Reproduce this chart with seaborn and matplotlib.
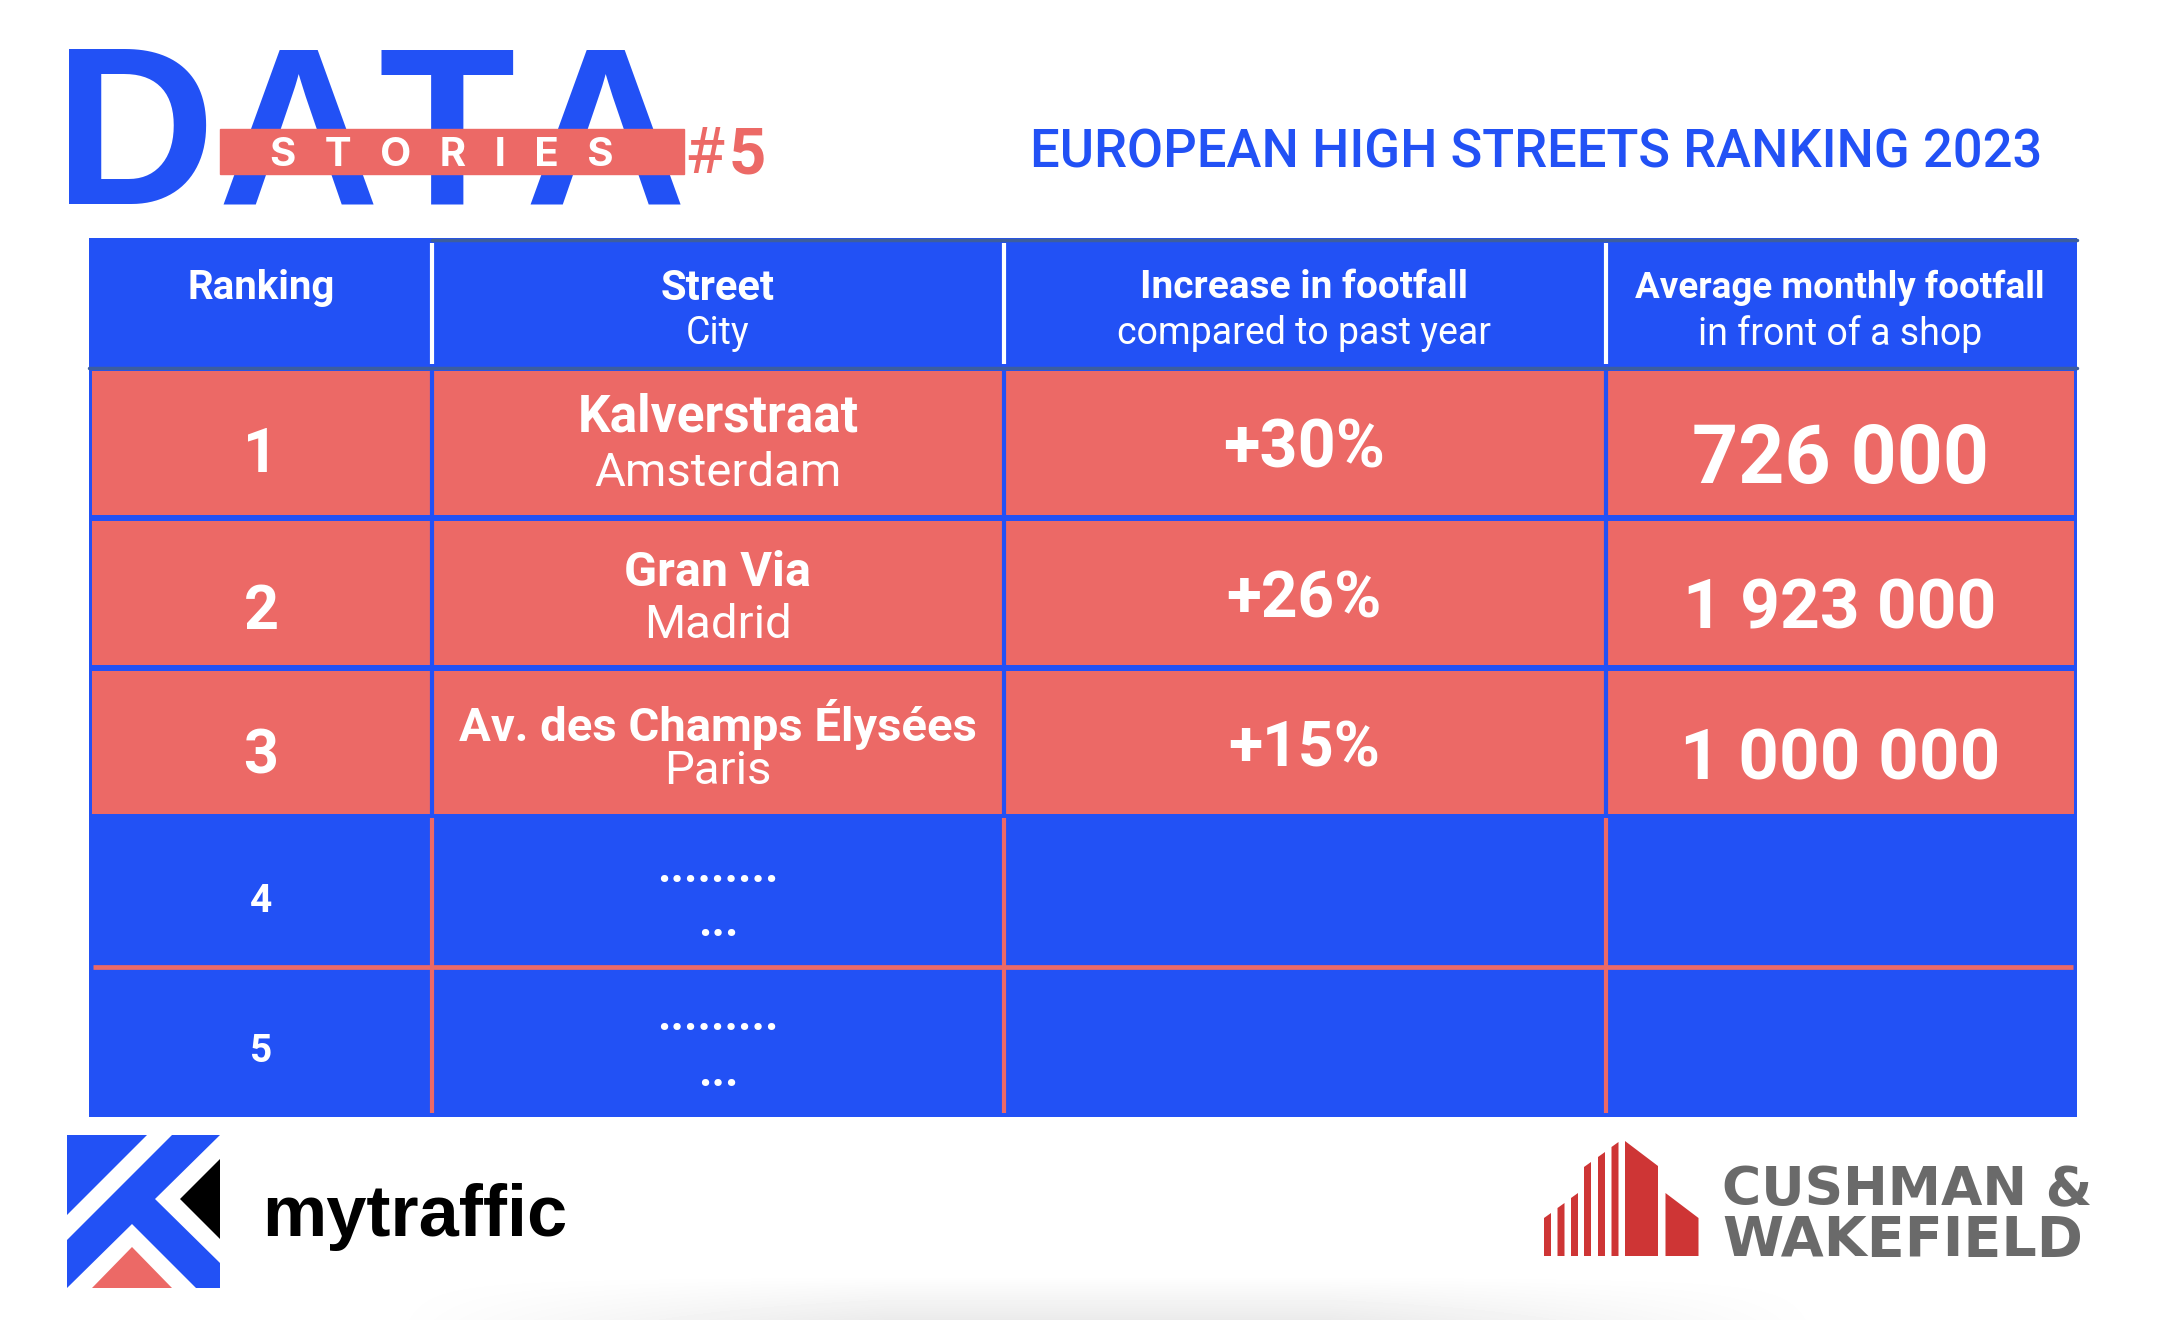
import numpy as np
import matplotlib
matplotlib.use("Agg")
import matplotlib.pyplot as plt
from matplotlib.colors import ListedColormap
from matplotlib.patches import Polygon, Rectangle
import seaborn as sns

BLUE = "#2251F5"
CORAL = "#EC6966"
W, H = 2174, 1320

ranks = [1, 2, 3, 4, 5]
streets = ["Kalverstraat", "Gran Via", "Av. des Champs Élysées", ".........", "........."]
cities = ["Amsterdam", "Madrid", "Paris", "...", "..."]
increases = [30, 26, 15]
footfall = [726000, 1923000, 1000000]
row_highlight = [1, 1, 1, 0, 0]
head_top = ["Ranking", "Street", "Increase in footfall", "Average monthly footfall"]
head_sub = ["", "City", "compared to past year", "in front of a shop"]

sns.set_theme(style="white")
plt.rcParams["font.family"] = ["Roboto", "DejaVu Sans"]


def px_axes(fig, x0, y0, x1, y1, z):
    return fig.add_axes([x0 / W, 1 - y1 / H, (x1 - x0) / W, (y1 - y0) / H], zorder=z)


fig = plt.figure(figsize=(21.74, 13.2), dpi=100, facecolor="white")

# faint grey smudge along the bottom edge of the slide
bg_ax = px_axes(fig, 0, 0, W, H, 0)
bg_ax.axis("off")
fade_x = np.minimum(np.clip((np.arange(W) - 384) / 500, 0, 1), np.clip((1830 - np.arange(W)) / 500, 0, 1))
fade_y = np.clip((np.arange(H) - 1275) / 45, 0, 1)
bg_ax.imshow(1 - 0.08 * np.outer(fade_y, fade_x), cmap="gray", vmin=0, vmax=1, aspect="auto")

# table is two heatmaps, header band + five rows
head_ax = px_axes(fig, 89, 238, 2077, 368, 1)
sns.heatmap(np.zeros((1, 1)), cmap=ListedColormap([BLUE]), cbar=False, ax=head_ax,
            xticklabels=False, yticklabels=False)

body_ax = px_axes(fig, 89, 368, 2077, 1117, 1)
sns.heatmap(np.array(row_highlight).reshape(-1, 1), cmap=ListedColormap([BLUE, CORAL]),
            vmin=0, vmax=1, cbar=False, ax=body_ax, linewidths=3, linecolor=BLUE,
            xticklabels=False, yticklabels=False)
body_ax.hlines(4, 0.002, 0.998, color=CORAL, lw=3.4)

# everything else on a full figure axes in pixels
ax = px_axes(fig, 0, 0, W, H, 2)
ax.set_xlim(0, W)
ax.set_ylim(H, 0)
ax.axis("off")
ax.patch.set_alpha(0)

col_x = [261, 718, 1304, 1840]
col_lines = [432, 1004, 1606]

for x in col_lines:
    ax.plot([x, x], [243, 364], color="white", lw=3, solid_capstyle="butt")
    ax.plot([x, x], [368, 816], color=BLUE, lw=3, solid_capstyle="butt")
    ax.plot([x, x], [818, 1113], color=CORAL, lw=3, solid_capstyle="butt")
ax.plot([432, 2077], [239.5, 239.5], color="#3D5E9E", lw=2.5)
ax.plot([89, 2077], [368, 368], color="#3D5E9E", lw=2.5)

# headers
head_size = [29, 30, 28, 26.5]
for x, top, sub, size in zip(col_x, head_top, head_sub, head_size):
    ax.text(x, 284, top, color="white", fontsize=size, fontweight="bold", ha="center", va="center_baseline")
    if sub:
        ax.text(x, 330, sub, color="white", fontsize=27, fontweight="regular", ha="center", va="center_baseline")

# rows
rank_y = [449, 606, 750, 898, 1047]
street_y = [412, 568, 720, 864, 1012]
city_y = [469, 621, 767, 919, 1068]
street_size = [37, 35, 34, 33, 33]
for i, r in enumerate(ranks):
    big = i < 3
    ax.text(col_x[0], rank_y[i], str(r), color="white", fontsize=44 if big else 28, fontweight="bold",
            ha="center", va="center_baseline")
    ax.text(col_x[1], street_y[i], streets[i], color="white", fontsize=street_size[i], fontweight="bold",
            ha="center", va="center_baseline")
    ax.text(col_x[1], city_y[i], cities[i], color="white", fontsize=34 if big else 33,
            fontweight="regular" if big else "bold", ha="center", va="center_baseline")

inc_y = [443, 593, 743]
inc_size = [48, 46, 45]
foot_y = [453, 603, 753]
foot_size = [58, 50, 51]
for i in range(3):
    ax.text(col_x[2], inc_y[i], f"+{increases[i]}%", color="white", fontsize=inc_size[i], fontweight="bold",
            ha="center", va="center_baseline")
    label = f"{footfall[i]:,}".replace(",", " ")
    ax.text(col_x[3], foot_y[i], label, color="white", fontsize=foot_size[i], fontweight="bold",
            ha="center", va="center_baseline")

# title block, letters placed one by one since the logo has wide tracking
for letter, lx in zip("DATA", [135, 298, 447, 605]):
    ax.text(lx, 204, letter, color=BLUE, fontsize=161, fontweight="bold", family="Liberation Sans",
            ha="center", va="baseline")
ax.add_patch(Rectangle((220, 129), 464, 45, color=CORAL, zorder=3))
ax.text(442, 151, "S   T   O   R   I   E   S", color="white", fontsize=29, fontweight="bold",
        family="Inter", ha="center", va="center_baseline", zorder=4)
ax.text(684, 173, "#", color=CORAL, fontsize=47, fontweight="regular", ha="left", va="baseline")
ax.text(729, 173, "5", color=CORAL, fontsize=47, fontweight="bold", ha="left", va="baseline")
ax.text(2042, 148, "EUROPEAN HIGH STREETS RANKING 2023", color=BLUE, fontsize=37.8, fontweight="medium",
        ha="right", va="center_baseline")

# mytraffic logo
ax.add_patch(Polygon([(67, 1135), (147, 1135), (67, 1215)], color=BLUE, lw=0))
ax.add_patch(Polygon([(172, 1135), (220, 1135), (155, 1199), (220, 1263), (220, 1288), (196, 1288),
                      (132, 1224), (67, 1288), (67, 1240)], color=BLUE, lw=0))
ax.add_patch(Polygon([(220, 1159), (220, 1239), (180, 1199)], color="black", lw=0))
ax.add_patch(Polygon([(92, 1288), (172, 1288), (132, 1247)], color=CORAL, lw=0))
ax.text(262, 1236, "mytraffic", color="black", fontsize=52, fontweight="bold",
        family="Liberation Sans", ha="left", va="baseline")

# cushman & wakefield logo
RED = "#CE3535"
base = 1256
bar_left = [1544, 1557.5, 1571, 1584, 1598, 1611.5]
bar_top = [1218, 1208, 1198, 1167, 1157, 1147]
for bx, bt in zip(bar_left, bar_top):
    ax.add_patch(Polygon([(bx, base), (bx + 7, base), (bx + 7, bt - 5), (bx, bt)], color=RED, lw=0))
ax.add_patch(Polygon([(1625, base), (1658, base), (1658, 1166), (1625, 1141)], color=RED, lw=0))
ax.add_patch(Polygon([(1665.5, base), (1698.5, base), (1698.5, 1218), (1665.5, 1193)], color=RED, lw=0))
ax.text(1722, 1205, "CUSHMAN &", color="#6A6A6A", fontsize=38.5, fontweight="bold", family="DejaVu Sans",
        ha="left", va="baseline")
ax.text(1722, 1256, "WAKEFIELD", color="#6A6A6A", fontsize=40, fontweight="bold", family="DejaVu Sans",
        ha="left", va="baseline")

fig.savefig("out.png", dpi=100)
